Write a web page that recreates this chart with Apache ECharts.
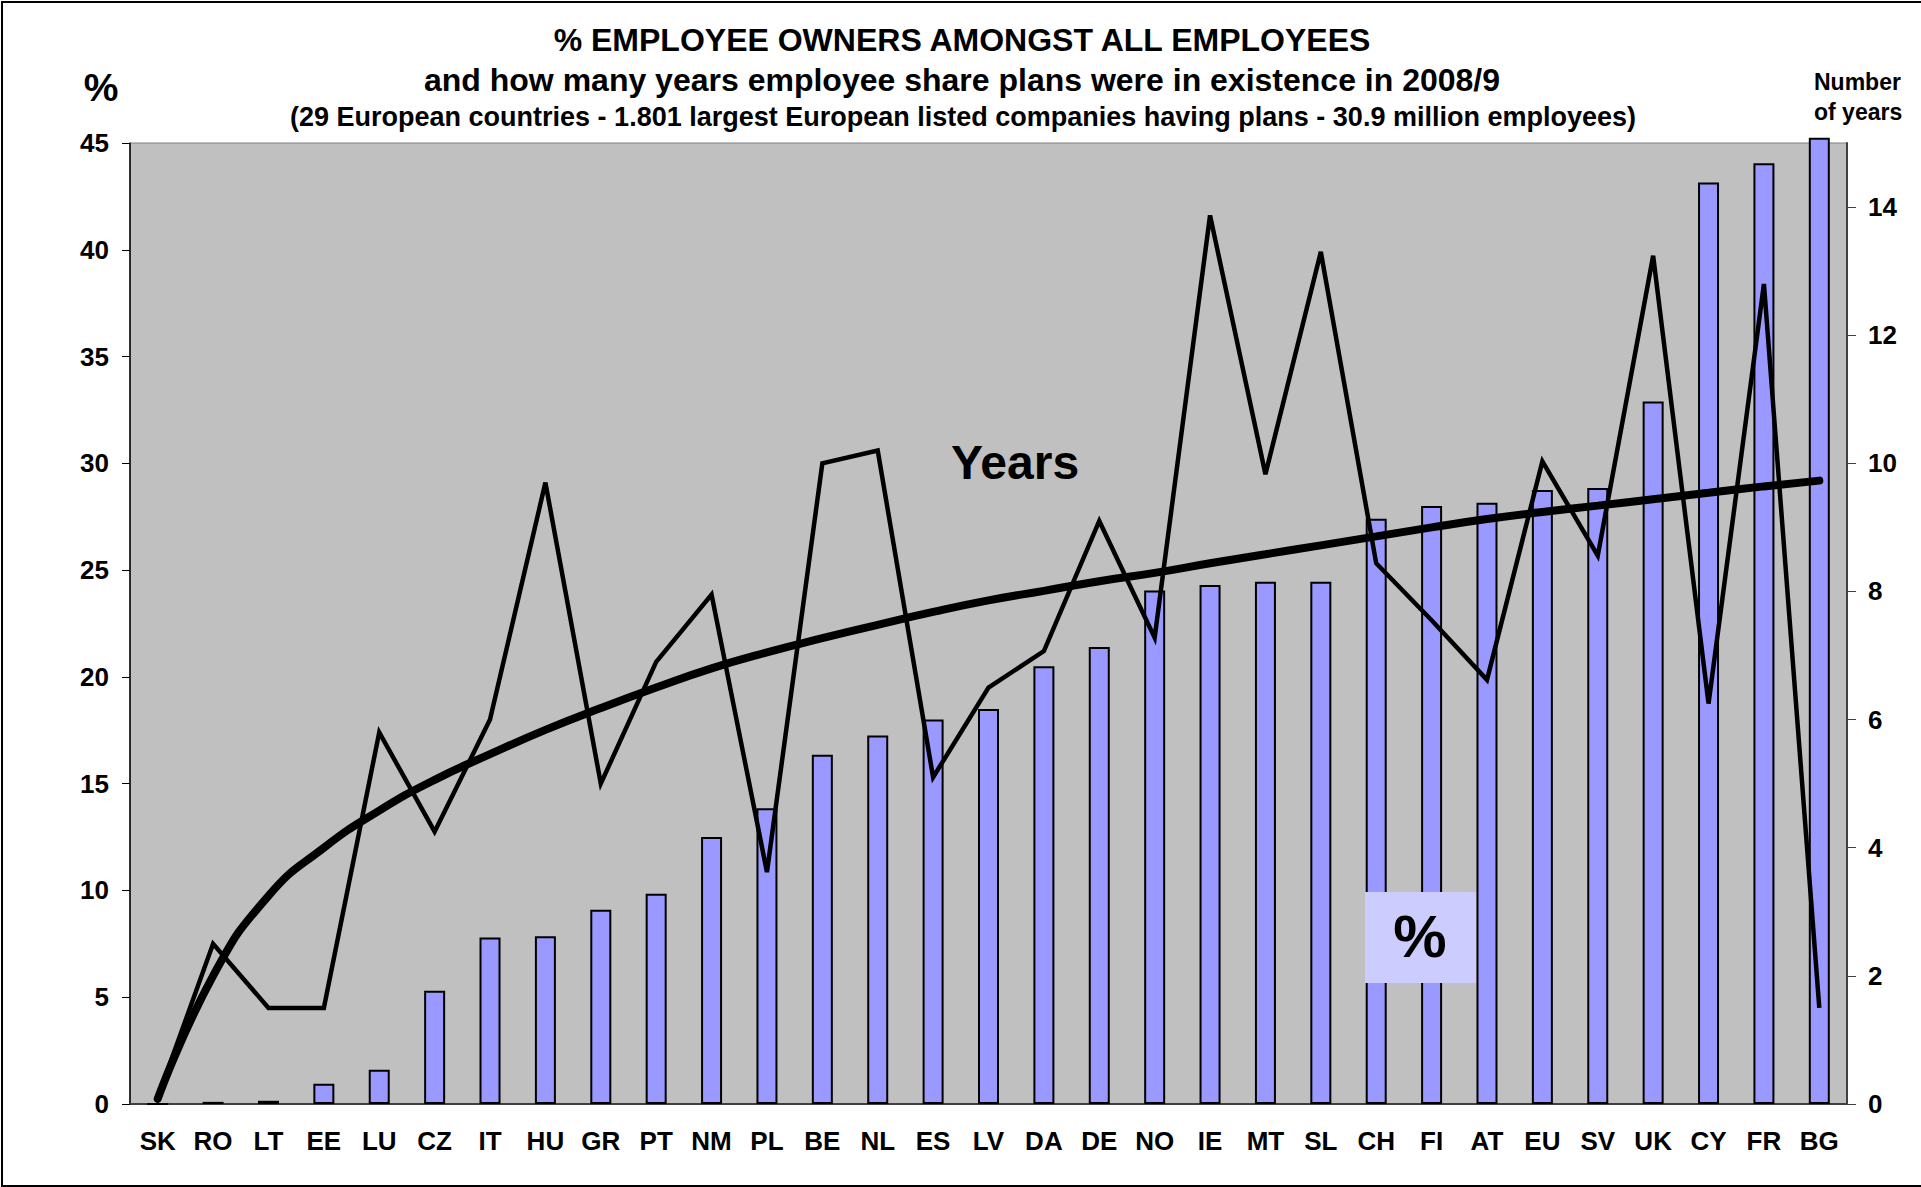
<!DOCTYPE html>
<html>
<head>
<meta charset="utf-8">
<title>% employee owners amongst all employees</title>
<script src="https://cdn.jsdelivr.net/npm/echarts@6/dist/echarts.min.js"></script>
<style>
  html, body { margin: 0; padding: 0; background: #fff; }
  #chart { width: 1921px; height: 1187px; }
</style>
</head>
<body>
<div id="chart"></div>
<script>
// countries, ordered by share of employee owners
const categories = ['SK', 'RO', 'LT', 'EE', 'LU', 'CZ', 'IT', 'HU', 'GR', 'PT', 'NM', 'PL', 'BE', 'NL', 'ES', 'LV',
  'DA', 'DE', 'NO', 'IE', 'MT', 'SL', 'CH', 'FI', 'AT', 'EU', 'SV', 'UK', 'CY', 'FR', 'BG']

// % employee owners (left axis)
const ownersPct = [0, 0.1, 0.15, 0.95, 1.6, 5.3, 7.8, 7.85, 9.1, 9.85, 12.5, 13.85, 16.35, 17.25, 18.0, 18.5,
  20.5, 21.4, 24.05, 24.3, 24.45, 24.45, 27.4, 28.0, 28.15, 28.75, 28.85, 32.9, 43.15, 44.05, 45.25]

// number of years plans existed (right axis)
const planYears = [0.1, 2.5, 1.5, 1.5, 5.8, 4.25, 6.0, 9.7, 5.0, 6.9, 7.95, 3.62, 10.0, 10.2, 5.1, 6.5,
  7.07, 9.1, 7.28, 13.87, 9.83, 13.3, 8.44, 7.55, 6.62, 10.03, 8.56, 13.24, 6.25, 12.8, 1.5]

// trend curve of the years (right axis)
const trendYears = [0.08, 2.0, 3.25, 4.0, 4.58, 5.06, 5.46, 5.84, 6.18, 6.5, 6.8, 7.05, 7.27, 7.48, 7.68, 7.86,
  8.01, 8.16, 8.29, 8.44, 8.58, 8.72, 8.86, 9.0, 9.13, 9.24, 9.34, 9.44, 9.54, 9.64, 9.73]

const leftTicks = { min: 0, max: 45, interval: 5 }
const rightTicks = { min: 0, max: 15, interval: 2 }

const FONT = '"Liberation Sans", Arial, Helvetica, sans-serif'

const chart = echarts.init(document.getElementById('chart'), null, { renderer: 'svg' })

const text = (str, x, y, size, align = 'center') => ({
  type: 'text',
  x,
  y,
  z: 100,
  silent: true,
  style: {
    text: str,
    font: `bold ${size}px ${FONT}`,
    fill: '#000',
    align,
    verticalAlign: 'middle',
  },
})

const option = {
  animation: false,
  backgroundColor: '#fff',
  textStyle: { fontFamily: FONT },
  grid: {
    left: 130,
    right: 74,
    top: 143,
    bottom: 83,
    show: true,
    backgroundColor: '#C0C0C0',
    borderColor: '#808080',
    borderWidth: 1,
  },
  xAxis: {
    type: 'category',
    data: categories,
    axisLine: { lineStyle: { color: '#404040', width: 2 } },
    axisTick: { length: 9, lineStyle: { color: '#404040', width: 1 } },
    axisLabel: {
      interval: 0,
      margin: 24,
      color: '#000',
      fontSize: 26,
      fontWeight: 'bold',
      fontFamily: FONT,
    },
  },
  yAxis: [
    {
      type: 'value',
      ...leftTicks,
      axisLine: { show: true, lineStyle: { color: '#000', width: 1.5 } },
      axisTick: { show: true, length: 8, lineStyle: { color: '#000' } },
      axisLabel: { margin: 21, color: '#000', fontSize: 26, fontWeight: 'bold', fontFamily: FONT },
      splitLine: { show: false },
    },
    {
      type: 'value',
      position: 'right',
      ...rightTicks,
      axisLine: { show: true, lineStyle: { color: '#404040', width: 2 } },
      axisTick: { show: true, length: 9, lineStyle: { color: '#404040' } },
      axisLabel: {
        margin: 21,
        color: '#000',
        fontSize: 26,
        fontWeight: 'bold',
        fontFamily: FONT,
        showMaxLabel: false,
      },
      splitLine: { show: false },
    },
  ],
  series: [
    {
      name: '%',
      type: 'bar',
      yAxisIndex: 0,
      data: ownersPct,
      barWidth: 21,
      clip: false,
      itemStyle: { color: '#9999FF', borderColor: '#000', borderWidth: 2 },
    },
    {
      name: 'Years',
      type: 'line',
      yAxisIndex: 1,
      data: planYears,
      symbol: 'none',
      lineStyle: { color: '#000', width: 4.5, join: 'miter', miterLimit: 10 },
      z: 3,
    },
    {
      name: 'Trend',
      type: 'line',
      yAxisIndex: 1,
      data: trendYears,
      smooth: true,
      symbol: 'none',
      lineStyle: { color: '#000', width: 8, cap: 'round' },
      z: 4,
    },
  ],
  graphic: [
    text('% EMPLOYEE OWNERS AMONGST ALL EMPLOYEES', 962, 40, 32),
    text('and how many years employee share plans were in existence in 2008/9', 962, 80, 32),
    text('(29 European countries - 1.801 largest European listed companies having plans - 30.9 million employees)', 963, 117, 27),
    text('%', 101, 87, 39),
    text('Number', 1814, 82, 23, 'left'),
    text('of years', 1814, 112, 23, 'left'),
    text('Years', 1015, 462, 48),
    {
      type: 'rect',
      z: 90,
      silent: true,
      shape: { x: 1365, y: 892, width: 111, height: 91 },
      style: { fill: '#CCCCFF' },
    },
    text('%', 1420, 936, 60),
    {
      type: 'rect',
      z: 100,
      silent: true,
      shape: { x: 2, y: 2, width: 1930, height: 1184 },
      style: { fill: 'none', stroke: '#000', lineWidth: 2 },
    },
  ],
}

chart.setOption(option)
</script>
</body>
</html>
